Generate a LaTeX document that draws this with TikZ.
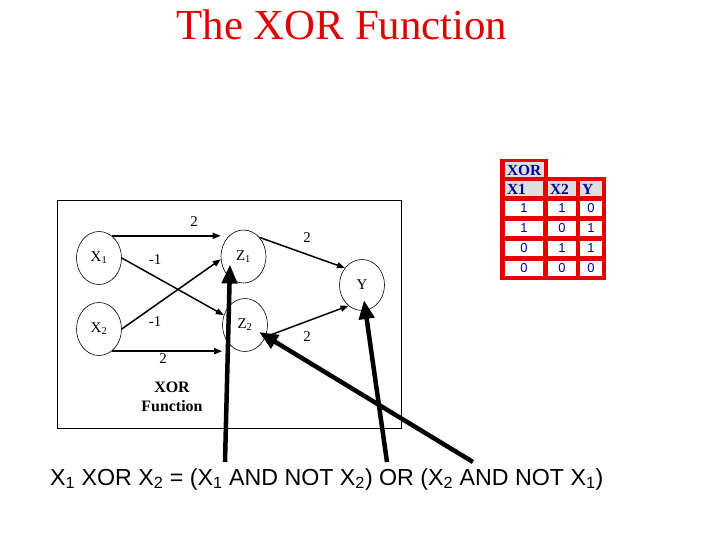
\documentclass[tikz,border=0pt]{standalone}
\usepackage{fontspec}
\setmainfont{Liberation Serif}
\newfontfamily\arialfont{Liberation Sans}
\usetikzlibrary{arrows.meta, shapes.geometric, calc}
\definecolor{tred}{RGB}{232,0,0}
\definecolor{ttitle}{RGB}{222,0,0}
\definecolor{tblue}{RGB}{0,0,160}
\definecolor{thead}{RGB}{222,222,222}

\begin{document}
\begin{tikzpicture}[x=1bp, y=-1bp,
  unit/.style={draw, ellipse, line width=0.6bp, inner sep=0pt, minimum width=45bp,
  minimum height=53bp, font=\fontsize{15}{17}\selectfont},
  wt/.style={font=\fontsize{15}{17}\selectfont, inner sep=1pt},
  arr/.style={-{Triangle[length=8bp,width=6bp]}, line width=1.5bp},
  big/.style={-{Triangle[length=19bp,width=15bp]}, line width=4.5bp},
  cell/.style={fill=white, inner sep=0pt, minimum height=15bp, text=tblue,
  font=\arialfont\fontsize{13}{13}\selectfont},
  hcell/.style={cell, fill=thead, inner xsep=2bp, align=left,
  font=\bfseries\fontsize{15.5}{15}\selectfont}
]
\useasboundingbox (0,0) rectangle (720,540);

\node[font=\fontsize{43}{48}\selectfont, text=ttitle, anchor=base] (title) at (342,40) {The XOR Function};

\draw[line width=0.8bp] (57,200) rectangle (401,428);

\node[unit] (X1) at (99,258) {X\textsubscript{1}};
\node[unit] (X2) at (99,329) {X\textsubscript{2}};
\node[unit] (Z1) at (243.5,256.5) {Z\textsubscript{1}};
\node[unit] (Z2) at (245,325) {Z\textsubscript{2}};
\node[unit, minimum height=51bp] (Y) at (362,285) {Y};

\draw[arr] (X1.60) -- (X1.60 -| Z1.west);
\draw[arr] (X1.east) -- (Z2.155);
\draw[arr] (X2.east) -- (Z1.187);
\draw[arr] (X2.-60) -- (X2.-60 -| Z2.west);
\draw[arr] (Z1.50) -- (Y.135);
\draw[arr] (Z2.-30) -- (Y.237);

\node[wt] (w11) at (194,222) {2};
\node[wt] (w12) at (155,260) {-1};
\node[wt] (w21) at (155,322) {-1};
\node[wt] (w22) at (163,359) {2};
\node[wt] (v1)  at (307,238) {2};
\node[wt] (v2)  at (307,337) {2};

\node[font=\bfseries\fontsize{16}{19}\selectfont, align=center] (fn) at (172,397) {XOR\\Function};

\fill[tred] (500,159) rectangle (548,182);
\fill[tred] (500,177) rectangle (606,280);
\node[hcell, text width=35bp] (hxor) at (524.5,170) {XOR};
\node[hcell, text width=34bp] (hx1) at (524,189) {X1};
\node[hcell, text width=24bp] (hx2) at (562,189) {X2};
\node[hcell, text width=18bp] (hy)  at (591,189) {Y};
\foreach \a/\b/\c [count=\i] in {1/1/0, 1/0/1, 0/1/1, 0/0/0} {
  \node[cell, minimum width=38bp] (a\i) at (524,188.5+20*\i) {\a};
  \node[cell, minimum width=28bp] (b\i) at (562,188.5+20*\i) {\b};
  \node[cell, minimum width=22bp] (c\i) at (591,188.5+20*\i) {\c};
}

\node[anchor=base west, inner sep=0pt, font=\arialfont\fontsize{23.3}{26}\selectfont] (eq) at (50,485)
  {X\textsubscript{1} XOR X\textsubscript{2} = (X\textsubscript{1} AND NOT X\textsubscript{2}) OR (X\textsubscript{2} AND NOT X\textsubscript{1})};

\coordinate (p1) at (225,462);
\coordinate (p2) at (387,462);
\coordinate (p3) at (473,462);
\draw[big] (p1) -- ([shift={(-13.5,8)}]Z1.center);
\draw[big] (p2) -- ([shift={(2,15)}]Y.center);
\draw[big] (p3) -- ([shift={(14,7)}]Z2.center);
\end{tikzpicture}
\end{document}
